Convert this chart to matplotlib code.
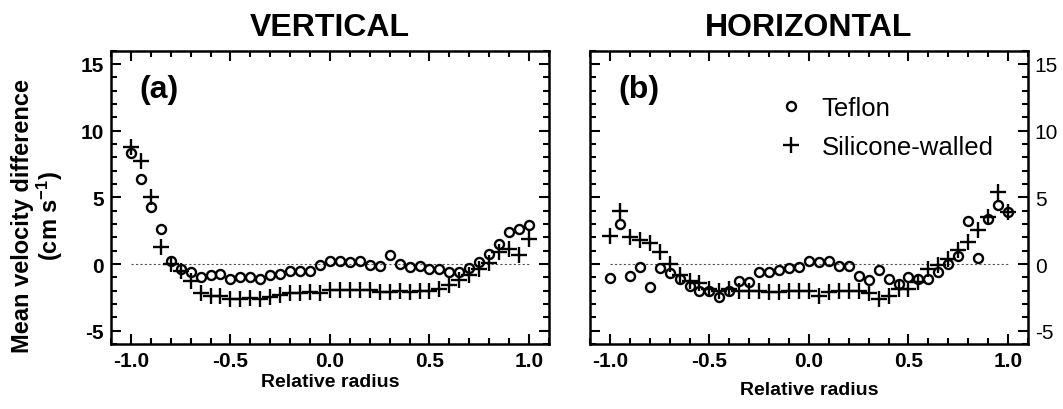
import numpy as np
import matplotlib.pyplot as plt
from matplotlib.ticker import MultipleLocator
from matplotlib.lines import Line2D

plt.rcParams['font.family'] = ['Liberation Sans', 'DejaVu Sans']
plt.rcParams['mathtext.default'] = 'regular'
plt.rcParams['axes.unicode_minus'] = False

# relative radius, -1 .. 1 every 0.05
radius = np.round(np.arange(-1.0, 1.0001, 0.05), 2)

# vertical tube
vert_teflon = [8.3, 6.4, 4.3, 2.6, 0.2, -0.4, -0.6, -1.0, -0.8, -0.75,
               -1.1, -1.0, -0.95, -1.15, -0.8, -0.75, -0.55, -0.5, -0.55, -0.08,
               0.22, 0.25, 0.15, 0.22, -0.1, -0.15, 0.65, 0.02, -0.25, -0.15,
               -0.4, -0.35, -0.6, -0.62, -0.3, 0.15, 0.78, 1.5, 2.37, 2.6, 2.95]
vert_silicone = [8.8, 7.7, 5.0, 1.3, 0.0, -0.5, -1.3, -2.2, -2.4, -2.4,
                 -2.6, -2.6, -2.55, -2.6, -2.5, -2.35, -2.2, -2.2, -2.1, -2.2,
                 -1.95, -1.95, -1.95, -1.95, -1.95, -2.1, -2.1, -2.0, -2.1, -2.0,
                 -2.0, -1.9, -1.55, -1.2, -0.8, -0.35, 0.1, 0.9, 1.1, 0.65, 1.9]

# horizontal tube
hor_teflon = [-1.05, 3.0, -0.9, -0.2, -1.75, -0.33, -0.65, -1.15, -1.65, -2.0,
              -2.05, -2.45, -2.05, -1.25, -1.35, -0.6, -0.6, -0.45, -0.3, -0.2,
              0.22, 0.18, 0.2, -0.18, -0.12, -0.9, -1.2, -0.43, -1.15, -1.5,
              -1.0, -1.1, -1.1, -0.6, 0.0, 0.6, 3.25, 0.42, 3.4, 4.4, 3.9]
hor_silicone = [2.1, 3.95, 2.05, 1.8, 1.55, 0.9, 0.0, -0.8, -1.3, -1.45,
                -1.9, -2.0, -1.9, -2.0, -2.0, -2.05, -2.1, -2.1, -2.0, -2.05,
                -2.05, -2.4, -2.1, -2.05, -2.05, -2.05, -2.2, -2.6, -2.4, -1.85,
                -1.85, -1.35, -0.4, -0.05, 0.35, 1.05, 1.65, 2.55, 3.5, 5.4, 3.9]

fig = plt.figure(figsize=(10.63, 4.10), dpi=100)
ax1 = fig.add_axes([0.1044, 0.1585, 0.412, 0.7155])
ax2 = fig.add_axes([0.555, 0.1585, 0.412, 0.7155])

circ = dict(marker='o', ms=6.5, mfc='none', mec='black', mew=1.7, ls='none')
plus = dict(marker='+', ms=11, mec='black', mew=1.7, ls='none')

panels = [(ax1, vert_teflon, vert_silicone, 'VERTICAL', '(a)'),
          (ax2, hor_teflon, hor_silicone, 'HORIZONTAL', '(b)')]
for ax, tef, sil, title, tag in panels:
    ax.hlines(0, radius[0], radius[-1], colors='#555555', linestyles=(0, (2, 2)),
              linewidth=0.8)
    ax.plot(radius, tef, **circ)
    ax.plot(radius, sil, **plus)
    ax.set_xlim(-1.1, 1.1)
    ax.set_ylim(-6, 16)
    ax.xaxis.set_major_locator(MultipleLocator(0.5))
    ax.xaxis.set_minor_locator(MultipleLocator(0.1))
    ax.yaxis.set_major_locator(MultipleLocator(5))
    ax.yaxis.set_minor_locator(MultipleLocator(1))
    ax.tick_params(which='both', direction='in', top=True, right=True, width=1.5)
    ax.tick_params(which='major', length=7, labelsize=15, pad=5)
    ax.tick_params(which='minor', length=4)
    for lab in ax.get_xticklabels() + ax.get_yticklabels():
        lab.set_fontweight('bold')
    for s in ax.spines.values():
        s.set_linewidth(1.8)
    ax.set_title(title, fontsize=23, fontweight='bold', pad=11)
    ax.set_xlabel('Relative radius', fontsize=14, fontweight='bold', labelpad=2)
    ax.text(0.065, 0.87, tag, transform=ax.transAxes, fontsize=23,
            fontweight='bold', va='center')

ax1.set_ylabel('Mean velocity difference\n(cm s$^{-1}$)', fontsize=17,
               fontweight='bold', linespacing=1.05)
ax1.yaxis.set_label_coords(-0.105, 0.44)
ax2.tick_params(axis='y', labelleft=False, labelright=True)
ax2.xaxis.labelpad = 8

handles = [Line2D([], [], **circ), Line2D([], [], **plus)]
ax2.legend(handles, ['Teflon', 'Silicone-walled'], loc='upper left',
           bbox_to_anchor=(0.37, 0.925), frameon=False, fontsize=18.5,
           handletextpad=0.6, labelspacing=0.6, handlelength=1.2)

fig.savefig('out.png', dpi=100)
